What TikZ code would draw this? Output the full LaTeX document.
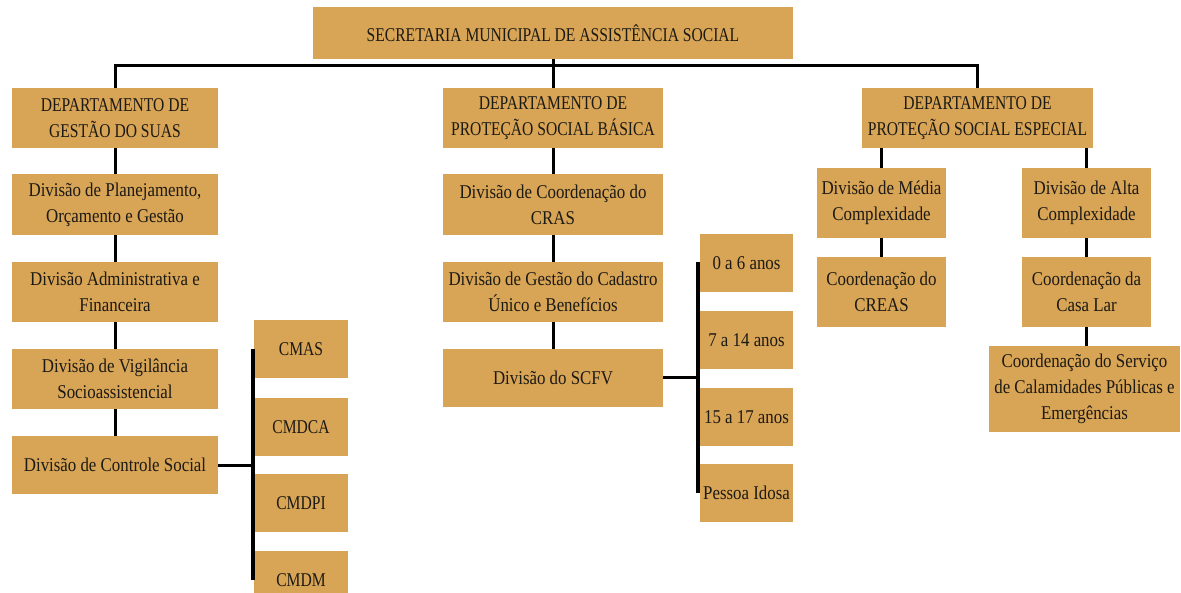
\documentclass[tikz,border=0pt]{standalone}
\usepackage{fontspec}
\setmainfont[FakeStretch=0.865]{Liberation Serif}
\newfontfamily\capsfont[FakeStretch=0.80]{Liberation Serif}
\definecolor{boxfill}{HTML}{D8A456}
\definecolor{txt}{HTML}{1C1A14}
\tikzset{
  orgbox/.style={fill=boxfill, inner sep=0pt, align=center, text=txt,
    font=\fontsize{19.5}{26}\selectfont},
  capsbox/.style={orgbox, font=\capsfont\fontsize{19.5}{26}\selectfont},
  conn/.style={line width=3pt, black},
}
\begin{document}
\begin{tikzpicture}[x=1pt,y=-1pt]
\clip (0,0) rectangle (1181,593);
\fill[white] (0,0) rectangle (1181,593);
% top
\node[capsbox, minimum width=480pt, minimum height=52pt] (sec) at (553,33) {SECRETARIA MUNICIPAL DE ASSISTÊNCIA SOCIAL};
% departments
\node[capsbox, minimum width=206pt, minimum height=60pt] (dgs) at (115,118) {DEPARTAMENTO DE\\GESTÃO DO SUAS};
\node[capsbox, minimum width=220pt, minimum height=60pt] (dpb) at (553,118) {DEPARTAMENTO DE\\PROTEÇÃO SOCIAL BÁSICA};
\node[capsbox, minimum width=231pt, minimum height=60pt] (dpe) at (977.5,118) {DEPARTAMENTO DE\\PROTEÇÃO SOCIAL ESPECIAL};
% left column
\node[orgbox, minimum width=206pt, minimum height=61pt] (d1) at (115,204.5) {Divisão de Planejamento,\\Orçamento e Gestão};
\node[orgbox, minimum width=206pt, minimum height=60pt] (d2) at (115,292) {Divisão Administrativa e\\Financeira};
\node[orgbox, minimum width=206pt, minimum height=60pt] (d3) at (115,379) {Divisão de Vigilância\\Socioassistencial};
\node[orgbox, minimum width=206pt, minimum height=58pt] (d4) at (115,465) {Divisão de Controle Social};
% councils
\node[capsbox, minimum width=94pt, minimum height=58pt] (c1) at (301,349) {CMAS};
\node[capsbox, minimum width=94pt, minimum height=58pt] (c2) at (301,427) {CMDCA};
\node[capsbox, minimum width=94pt, minimum height=58pt] (c3) at (301,503) {CMDPI};
\node[capsbox, minimum width=94pt, minimum height=58pt] (c4) at (301,580) {CMDM};
% center column
\node[orgbox, minimum width=220pt, minimum height=61pt] (b1) at (553,204.5) {Divisão de Coordenação do\\CRAS};
\node[orgbox, minimum width=220pt, minimum height=60pt] (b2) at (553,292) {Divisão de Gestão do Cadastro\\Único e Benefícios};
\node[orgbox, minimum width=220pt, minimum height=58pt] (b3) at (553,378) {Divisão do SCFV};
% age groups
\node[orgbox, minimum width=93pt, minimum height=58pt] (a1) at (746.5,263) {0 a 6 anos};
\node[orgbox, minimum width=93pt, minimum height=58pt] (a2) at (746.5,340) {7 a 14 anos};
\node[orgbox, minimum width=93pt, minimum height=58pt] (a3) at (746.5,417) {15 a 17 anos};
\node[orgbox, minimum width=93pt, minimum height=58pt] (a4) at (746.5,493) {Pessoa Idosa};
% right column
\node[orgbox, minimum width=129pt, minimum height=70pt] (m1) at (881.5,203) {Divisão de Média\\Complexidade};
\node[orgbox, minimum width=129pt, minimum height=70pt] (m2) at (881.5,292) {Coordenação do\\CREAS};
\node[orgbox, minimum width=129pt, minimum height=70pt] (h1) at (1086.5,203) {Divisão de Alta\\Complexidade};
\node[orgbox, minimum width=129pt, minimum height=70pt] (h2) at (1086.5,292) {Coordenação da\\Casa Lar};
\node[orgbox, minimum width=191pt, minimum height=86pt] (h3) at (1084.5,389) {Coordenação do Serviço\\de Calamidades Públicas e\\Emergências};
% connectors
\coordinate (bus) at (553,66);
\draw[conn] (sec.south) -- (bus);
\draw[conn] (dgs.north) |- (bus) -| (dpe.north);
\draw[conn] (bus) -- (dpb.north);
\draw[conn] (dgs.south) -- (d1.north);
\draw[conn] (d1.south) -- (d2.north);
\draw[conn] (d2.south) -- (d3.north);
\draw[conn] (d3.south) -- (d4.north);
\coordinate (cbt) at (253,349);
\coordinate (cbb) at (253,580);
\draw[conn, line width=3.5pt] (cbt) -- (cbb);
\draw[conn] (d4.east) -- (d4.east -| cbt);
\draw[conn] (dpb.south) -- (b1.north);
\draw[conn] (b1.south) -- (b2.north);
\draw[conn] (b2.south) -- (b3.north);
\coordinate (abt) at (698,262);
\coordinate (abb) at (698,493);
\draw[conn, line width=3.5pt] (abt) -- (abb);
\draw[conn] (b3.east) -- (b3.east -| abt);
\draw[conn] (dpe.south -| m1.north) -- (m1.north);
\draw[conn] (dpe.south -| h1.north) -- (h1.north);
\draw[conn] (m1.south) -- (m2.north);
\draw[conn] (h1.south) -- (h2.north);
\draw[conn] (h2.south) -- (h2.south |- h3.north);
\end{tikzpicture}
\end{document}
